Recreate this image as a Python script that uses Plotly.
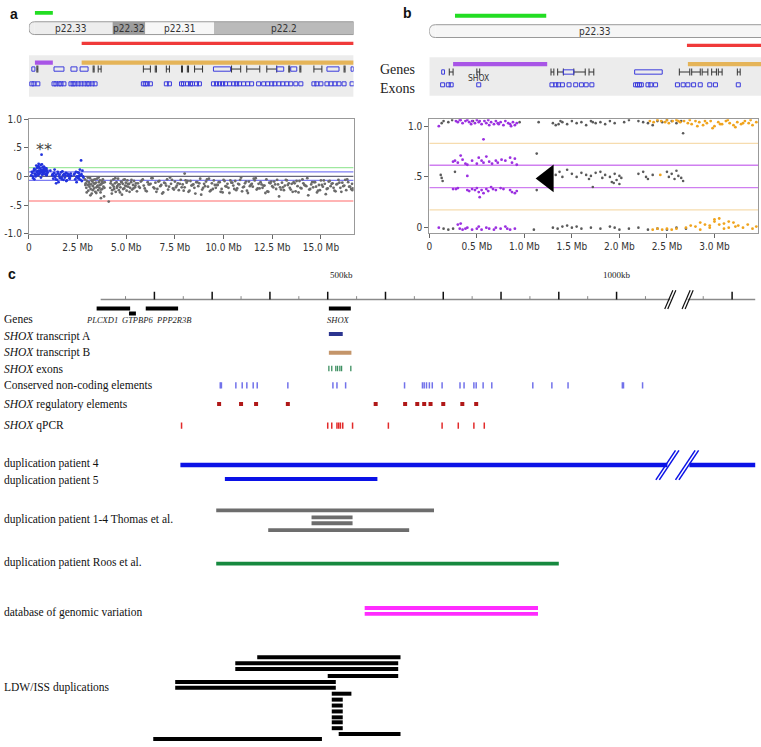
import plotly.graph_objects as go

# ======================= DATA =======================
# ---- panel a : array-CGH, position (Mb) and log2 ratio
a_blue_x = [0.12,0.18,0.22,0.25,0.3,0.33,0.36,0.4,0.42,0.45,0.48,0.5,0.52,0.55,0.58,0.6,0.62,0.65,0.68,0.7,
            0.72,0.75,0.78,0.8,0.83,0.85,0.88,0.9,0.93,0.96,0.35,0.5,0.62,0.77,0.9,0.28,0.7,0.65,
            1.2,1.25,1.3,1.35,1.4,1.45,1.5,1.55,1.6,1.65,1.7,1.75,1.8,1.85,1.9,1.95,2.0,2.05,2.1,2.15,
            1.32,1.52,1.72,1.92,2.12,1.4,1.1,
            2.32,2.38,2.42,2.48,2.52,2.56,2.6,2.65,2.7,2.75,2.8,2.45,2.62,2.72,2.55,2.68,
            0.15,0.2,0.27,0.32,0.38,0.43,0.47,0.53,0.57,0.63,0.67,0.73,0.79,0.82,0.87,0.92,0.95,
            1.22,1.28,1.38,1.48,1.58,1.68,1.78,1.88,1.98,2.08,2.18,
            2.35,2.44,2.5,2.58,2.66,2.78]
a_blue_y = [0.02,0.06,-0.03,0.1,0.05,0.12,0.03,0.08,0.15,0.06,0.18,0.1,0.04,0.14,0.09,0.2,0.07,0.12,0.03,0.16,
            0.1,0.06,0.13,0.08,0.11,0.04,0.09,0.14,0.05,0.07,0.0,0.22,-0.02,0.17,0.02,-0.05,0.08,0.38,
            0.02,-0.04,0.06,-0.01,0.03,-0.06,0.05,0.0,-0.03,0.07,-0.05,0.02,0.04,-0.02,0.06,-0.07,0.01,0.03,-0.04,0.05,
            0.12,-0.1,0.09,-0.08,0.0,-0.12,0.1,
            0.03,-0.05,0.08,0.0,-0.03,0.06,0.02,-0.06,0.04,0.1,-0.02,-0.1,0.12,-0.08,-0.01,0.28,
            0.08,0.0,0.13,0.03,0.19,0.09,0.02,0.16,0.06,0.11,0.21,0.04,0.1,0.15,0.12,0.03,0.1,
            0.04,0.01,-0.05,0.08,0.03,-0.02,-0.06,0.02,0.05,-0.03,0.01,
            0.05,-0.01,0.07,-0.04,0.02,0.0]
a_gray_x = [2.88,2.92,2.95,2.98,3.02,3.05,3.08,3.11,3.14,3.17,3.2,3.23,3.26,3.29,3.32,3.35,3.38,3.41,3.44,3.47,
            3.5,3.53,3.56,3.59,3.62,3.65,3.68,3.71,3.74,3.77,3.8,3.83,3.86,3.89,
            2.9,2.97,3.03,3.1,3.16,3.22,3.28,3.34,3.4,3.46,3.52,3.58,3.64,3.7,3.76,3.82,3.88,
            4.1,8.0,3.7,
            4.18,4.22,4.26,4.3,4.34,4.38,4.42,4.46,4.5,4.54,4.58,4.62,4.66,4.7,4.74,4.78,4.82,4.86,4.9,4.94,
            4.98,5.02,5.06,5.1,5.15,5.2,5.25,5.3,5.35,5.4,5.45,5.5,5.55,
            4.2,4.28,4.36,4.44,4.52,4.6,4.68,4.76,4.84,4.92,5.0,5.08,5.17,5.27,5.37,5.47,
            5.6,5.7,5.8,5.9,6.0,6.1,6.2,6.3,6.4,6.5,6.6,6.7,6.8,6.9,7.0,7.1,7.2,7.3,7.4,7.5,
            7.6,7.7,7.8,7.9,8.0,8.1,8.2,8.3,8.4,8.5,8.6,8.7,8.8,8.9,9.0,9.1,9.2,9.3,9.4,9.5,
            9.6,9.7,9.8,9.9,10.0,10.1,10.2,10.3,10.4,10.5,10.6,10.7,10.8,10.9,11.0,11.1,11.2,11.3,11.4,11.5,
            11.6,11.7,11.8,11.9,12.0,12.1,12.2,12.3,12.4,12.5,12.6,12.7,12.8,12.9,13.0,13.1,13.2,13.3,13.4,13.5,
            13.6,13.7,13.8,13.9,14.0,14.1,14.2,14.3,14.4,14.5,14.6,14.7,14.8,14.9,15.0,15.1,15.2,15.3,15.4,15.5,
            15.6,15.7,15.8,15.9,16.0,16.1,16.2,16.3,16.4,16.5,16.6,16.65,
            5.65,5.85,6.05,6.25,6.45,6.65,6.85,7.05,7.25,7.45,7.65,7.85,8.05,8.25,8.45,8.65,8.85,9.05,9.25,9.45,
            9.65,9.85,10.05,10.25,10.45,10.65,10.85,11.05,11.25,11.45,11.65,11.85,12.05,12.25,12.45,12.65,12.85,13.05,13.25,13.45,
            13.65,13.85,14.05,14.25,14.45,14.65,14.85,15.05,15.25,15.45,15.65,15.85,16.05,16.25,16.45,16.62,
            5.75,5.95,6.15,6.35,6.55,6.75,6.95,7.15,7.35,7.55,7.75,7.95,8.15,8.35,8.55,8.75,8.95,9.15,9.35,9.55,
            9.75,9.95,10.15,10.35,10.55,10.75,10.95,11.15,11.35,11.55,11.75,11.95,12.15,12.35,12.55,12.75,12.95,13.15,13.35,13.55,
            13.75,13.95,14.15,14.35,14.55,14.75,14.95,15.15,15.35,15.55,15.75,15.95,16.15,16.35,16.55]
a_gray_y = [-0.05,-0.12,-0.2,-0.08,-0.15,-0.25,-0.1,-0.18,-0.03,-0.22,-0.14,-0.3,-0.09,-0.17,-0.06,-0.21,-0.13,-0.27,-0.11,-0.19,
            -0.04,-0.16,-0.24,-0.1,-0.2,-0.07,-0.28,-0.14,-0.12,-0.22,-0.05,-0.18,-0.35,-0.1,
            -0.15,-0.28,-0.02,-0.14,-0.33,-0.07,-0.24,-0.12,-0.05,-0.29,-0.18,-0.02,-0.15,-0.23,-0.08,-0.11,-0.2,
            -0.44,0.05,-0.38,
            -0.2,-0.08,-0.3,-0.15,-0.05,-0.22,-0.12,-0.27,-0.1,-0.17,-0.04,-0.24,-0.14,-0.19,-0.09,-0.32,-0.13,-0.06,-0.21,-0.16,
            -0.11,-0.25,-0.07,-0.18,-0.13,-0.2,-0.1,-0.23,-0.15,-0.08,-0.19,-0.12,-0.26,
            -0.12,-0.24,-0.18,-0.03,-0.2,-0.14,-0.28,-0.1,-0.22,-0.05,-0.17,-0.13,-0.27,-0.06,-0.21,-0.16,
            -0.12,-0.2,-0.07,-0.16,-0.25,-0.1,-0.14,-0.03,-0.19,-0.11,-0.22,-0.08,-0.15,-0.28,-0.12,-0.05,-0.18,-0.13,-0.21,-0.09,
            -0.16,-0.24,-0.06,-0.14,-0.19,-0.11,-0.27,-0.08,-0.15,-0.2,-0.1,-0.17,-0.04,-0.23,-0.13,-0.09,-0.18,-0.26,-0.12,-0.07,
            -0.2,-0.15,-0.1,-0.22,-0.06,-0.17,-0.13,-0.29,-0.11,-0.16,-0.08,-0.21,-0.14,-0.02,-0.19,-0.12,-0.25,-0.09,-0.15,-0.18,
            -0.07,-0.23,-0.13,-0.1,-0.2,-0.16,-0.05,-0.27,-0.12,-0.17,-0.09,-0.22,-0.14,-0.19,-0.11,-0.24,-0.06,-0.15,-0.2,-0.13,
            -0.1,-0.26,-0.17,-0.08,-0.21,-0.12,-0.16,-0.03,-0.23,-0.14,-0.19,-0.1,-0.28,-0.15,-0.07,-0.18,-0.13,-0.22,-0.09,-0.17,
            -0.12,-0.25,-0.14,-0.06,-0.2,-0.11,-0.16,-0.24,-0.1,-0.18,-0.13,-0.21,
            -0.18,-0.05,-0.26,-0.13,-0.21,-0.09,-0.3,-0.16,-0.02,-0.23,-0.12,-0.19,-0.07,-0.25,-0.14,-0.1,-0.32,-0.17,-0.04,-0.22,
            -0.15,-0.27,-0.08,-0.2,-0.11,-0.24,-0.06,-0.18,-0.29,-0.13,-0.03,-0.21,-0.16,-0.26,-0.09,-0.14,-0.35,-0.19,-0.07,-0.23,
            -0.12,-0.28,-0.05,-0.17,-0.22,-0.1,-0.25,-0.15,-0.31,-0.08,-0.2,-0.13,-0.27,-0.06,-0.18,-0.24,
            -0.09,-0.21,-0.14,-0.03,-0.27,-0.17,-0.11,-0.23,-0.06,-0.19,-0.13,-0.25,-0.08,-0.16,-0.3,-0.12,-0.2,-0.05,-0.24,-0.15,
            -0.1,-0.28,-0.18,-0.07,-0.22,-0.13,-0.26,-0.09,-0.17,-0.04,-0.21,-0.14,-0.29,-0.11,-0.19,-0.06,-0.23,-0.16,-0.12,-0.27,
            -0.08,-0.2,-0.15,-0.33,-0.1,-0.18,-0.24,-0.07,-0.21,-0.13,-0.26,-0.11,-0.17,-0.05,-0.22]
a_line_val = [0.155, 0.08, 0.0, -0.07, -0.43]
a_line_col = ["#9fe89f", "#7c7cf2", "#66667a", "#7c7cf2", "#ff6b6b"]
a_xtick_val = [0, 2.5, 5.0, 7.5, 10.0, 12.5, 15.0]
a_xtick_txt = ["0", "2.5 Mb", "5.0 Mb", "7.5 Mb", "10.0 Mb", "12.5 Mb", "15.0 Mb"]
a_ytick_val = [-1.0, -0.5, 0, 0.5, 1.0]
a_ytick_txt = ["-1.0", "-.5", "0", ".5", "1.0"]
# panel a ideogram / tracks (Mb)
a_band_name = ["p22.33", "p22.32", "p22.31", "p22.2"]
a_band_start = [0.0, 4.30, 5.98, 9.51]
a_band_end = [4.30, 5.98, 9.51, 16.68]
a_band_fill = ["#ededed", "#9d9d9d", "#f7f7f7", "#bababa"]
a_green = [0.31, 1.23]
a_red = [2.71, 16.68]
a_purple = [0.31, 1.23]
a_orange = [2.71, 16.68]
a_gene_box = [[0.15,0.31],[1.29,1.8],[2.16,2.47],[2.63,3.04],[9.48,10.36],[12.73,13.09],[13.45,13.76],[15.31,15.93],[16.55,16.68]]
a_gene_bar = [[0.41,0.46],[3.3,3.35],[3.56,3.71],[5.88,6.24],[6.49,6.55],[7.06,7.22],[7.84,7.89],[8.14,8.2],[8.51,8.92],
              [10.41,10.88],[11.19,11.86],[12.22,12.73],[13.35,13.4],[13.92,13.97],[14.64,15.05],[16.19,16.24]]
a_exon = [0.15,0.26,0.46,1.29,1.39,1.55,1.65,1.8,2.16,2.27,2.37,2.53,2.68,2.84,2.99,3.09,3.25,3.4,5.88,5.98,6.08,6.24,
          7.06,7.22,7.84,7.94,8.14,8.3,8.4,8.61,8.76,9.48,9.64,9.79,9.95,10.1,10.31,10.52,10.67,10.82,11.03,11.24,11.44,
          11.8,12.06,12.27,12.47,12.63,12.84,13.04,13.25,13.45,13.71,13.97,14.64,14.79,15.0,15.31,15.52,15.72,15.93,16.19,16.6]

# ---- panel b : SNP B-allele frequency, position (Mb)
b_purple_x = [0.28,0.3,0.32,0.35,0.38,0.4,0.42,0.45,0.48,0.5,0.52,0.55,0.58,0.6,0.62,0.65,0.68,0.7,0.72,0.75,
              0.78,0.8,0.83,0.85,0.88,0.9,0.92,0.33,0.44,0.53,0.63,0.73,0.86,0.1,
              0.57,
              0.25,0.27,0.3,0.33,0.35,0.38,0.4,0.45,0.5,0.52,0.55,0.57,0.6,0.63,0.66,0.7,0.72,0.76,0.8,0.85,0.87,0.9,0.92,
              0.25,0.28,0.3,0.4,0.42,0.45,0.48,0.5,0.52,0.53,0.55,0.57,0.6,0.62,0.65,0.67,0.7,0.75,0.78,0.85,0.87,0.9,0.92,
              0.4,
              0.1,0.3,0.32,0.35,0.38,0.4,0.45,0.5,0.52,0.55,0.6,0.63,0.68,0.7,0.75,0.8,0.82,0.85,0.9,0.33]
b_purple_y = [1.05,1.04,1.06,1.03,1.05,1.06,1.04,1.05,1.03,1.06,1.04,1.02,1.05,1.03,1.06,1.04,1.02,1.05,1.03,1.04,
              1.01,1.05,1.03,1.02,1.04,1.01,1.03,1.06,1.02,1.05,1.01,1.02,1.0,1.0,
              0.87,
              0.65,0.66,0.64,0.71,0.67,0.63,0.62,0.66,0.63,0.69,0.66,0.64,0.7,0.65,0.63,0.66,0.64,0.67,0.66,0.69,0.64,0.68,0.62,
              0.38,0.38,0.39,0.37,0.36,0.38,0.37,0.39,0.35,0.3,0.37,0.34,0.38,0.36,0.4,0.38,0.37,0.39,0.38,0.37,0.35,0.34,0.36,
              0.51,
              0.0,0.03,-0.01,-0.02,-0.01,0.0,-0.02,-0.01,0.01,-0.02,0.0,-0.01,-0.02,0.0,-0.01,0.01,-0.01,-0.02,-0.01,0.04]
b_gray_x = [0.13,0.15,0.2,0.24,0.46,0.95,1.15,1.3,1.33,1.38,1.4,1.45,1.5,1.55,1.6,1.65,1.7,1.75,1.8,1.85,
            1.9,1.95,2.05,2.1,2.2,2.25,2.3,2.35,2.4,2.45,2.5,2.55,2.6,2.65,2.67,1.36,1.72,
            1.33,1.37,1.4,1.45,1.5,1.55,1.6,1.65,1.68,1.7,1.72,1.75,1.8,1.82,1.85,1.9,1.92,1.95,1.97,2.0,
            2.02,2.2,2.25,2.28,2.3,2.35,2.5,2.52,2.55,2.58,2.6,2.62,2.65,2.67,2.0,1.94,0.12,0.13,0.14,0.27,1.13,1.13,
            0.15,0.2,0.25,1.1,1.3,1.35,1.4,1.45,1.5,1.55,1.6,1.7,1.8,1.9,1.95,2.0,2.1,2.2,2.3,2.4,2.5,2.6,2.7]
b_gray_y = [1.03,1.05,1.04,1.06,1.05,1.04,1.04,1.03,1.01,1.05,1.04,1.02,1.05,1.03,1.04,1.01,1.05,1.03,1.04,1.02,
            1.05,1.03,1.04,1.06,1.05,1.04,1.03,1.01,1.05,1.04,1.06,1.05,1.03,1.05,0.93,1.02,1.04,
            0.52,0.55,0.5,0.57,0.53,0.5,0.54,0.52,0.48,0.51,0.4,0.54,0.55,0.49,0.52,0.5,0.45,0.53,0.47,0.51,
            0.49,0.53,0.55,0.5,0.48,0.52,0.55,0.5,0.53,0.48,0.56,0.51,0.49,0.46,0.43,0.44,0.52,0.49,0.46,0.55,0.73,0.37,
            -0.01,-0.02,-0.01,-0.02,0.0,-0.01,0.01,0.02,0.0,0.01,-0.01,0.0,-0.01,0.01,0.0,-0.02,-0.01,0.0,-0.02,-0.01,-0.02,0.0,-0.01]
b_orange_x = [2.32,2.36,2.4,2.44,2.48,2.52,2.56,2.6,2.64,2.68,2.72,2.76,2.8,2.84,2.88,2.92,2.96,3.0,3.04,3.08,
              3.12,3.16,3.2,3.24,3.28,3.32,3.36,3.4,3.44,2.74,2.82,2.9,2.98,3.06,3.14,3.22,3.3,3.38,2.5,2.62,
              2.35,2.4,2.45,2.5,2.55,2.6,2.7,2.75,2.8,2.85,2.9,2.95,3.0,3.05,3.1,3.15,3.2,3.25,3.3,3.35,
              3.4,3.44,2.95,3.05,3.15,3.22,2.85,3.0,3.1,
              2.43]
b_orange_y = [1.05,1.04,1.06,1.05,1.04,1.03,1.05,1.06,1.04,1.05,1.03,1.02,1.05,1.04,1.01,1.03,1.05,1.0,1.04,1.02,
              1.05,1.03,1.01,1.04,1.02,1.05,1.03,1.01,1.04,1.06,1.0,1.05,0.98,1.02,1.06,0.99,1.03,1.06,1.06,1.05,
              -0.02,-0.01,-0.02,-0.01,-0.02,-0.01,0.0,0.02,0.01,0.05,0.03,0.02,0.06,0.09,0.04,0.0,0.05,0.02,0.0,0.03,
              -0.01,0.01,0.0,0.03,0.06,0.01,-0.02,0.08,-0.01,
              0.52]
b_line_val = [0.83, 0.615, 0.395, 0.175]
b_line_col = ["#f6dcae", "#cf7ff0", "#cf7ff0", "#f6dcae"]
b_arrow = [1.245, 0.485]
b_xtick_val = [0, 0.5, 1.0, 1.5, 2.0, 2.5, 3.0]
b_xtick_txt = ["0", "0.5 Mb", "1.0 Mb", "1.5 Mb", "2.0 Mb", "2.5 Mb", "3.0 Mb"]
b_ytick_val = [0, 0.5, 1.0]
b_ytick_txt = ["0", ".5", "1.0"]
b_band_name = ["p22.33"]
b_band_start = [0.0]
b_band_end = [3.6]
b_band_label_x = [1.74]
b_green = [0.27, 1.23]
b_red = [2.71, 3.6]
b_purple = [0.25, 1.24]
b_orange = [2.72, 3.6]
b_gene_box = [[0.13,0.16],[1.41,1.52],[2.16,2.45]]
b_gene_bar = [[0.21,0.25],[0.5,0.53],[1.28,1.31],[1.35,1.41],[1.52,1.64],[1.68,1.73],[2.63,2.74],[2.76,2.85],
              [2.87,2.93],[2.97,3.02],[3.04,3.08],[3.24,3.27]]
b_exon = [0.14,0.2,0.23,0.52,1.29,1.33,1.36,1.4,1.47,1.54,1.6,1.65,1.71,2.17,2.19,2.21,2.23,2.3,2.33,2.38,
          2.61,2.67,2.72,2.78,2.85,2.95,3.01,3.25]
b_shox_label = [0.52]

# ---- panel c : map (kb; region after the break continues on the same scale)
c_ruler = [107, 1240]
c_major = [200, 300, 400, 500, 600, 700, 800, 900, 1000, 1200]
c_minor = [150, 250, 350, 450, 550, 650, 750, 850, 950, 1050, 1150]
c_ruler_txt = ["500kb", "1000kb"]
c_ruler_txt_kb = [500, 1000]
c_break = [1093, 1123]
c_gene_name = ["PLCXD1", "GTPBP6", "PPP2R3B", "SHOX"]
c_gene_start = [100, 156, 185, 502]
c_gene_end = [158, 168, 241, 540]
c_gene_label_kb = [110, 171, 233, 519]
c_tA = [502, 526]
c_tB = [502, 541]
c_exons = [502, 507, 514, 517, 521, 524, 540]
c_cne = [314,316,341,352,360,371,378,431,509,516,531,633,664,667,671,676,681,698,729,736,753,757,769,784,855,888,916,1010,1012,1045]
c_reg = [312, 350, 376, 431, 583, 634, 655, 667, 678, 700, 733, 757]
c_qpcr = [247, 500, 507, 516, 519, 522, 526, 543, 605, 698, 726, 753, 771]
c_p4 = [245, 1240]
c_p5 = [322, 586]
c_thomas_start = [307, 472, 472, 397]
c_thomas_end = [684, 543, 543, 641]
c_roos = [307, 900]
c_dgv_start = [564, 564]
c_dgv_end = [864, 864]
c_ldw_start = [378, 340, 340, 500, 236, 236, 507, 507, 507, 507, 507, 507, 507, 519, 198]
c_ldw_end = [626, 622, 622, 622, 514, 514, 541, 526, 526, 526, 526, 526, 526, 626, 490]
c_row_label = ["Genes", "<i>SHOX</i> transcript A", "<i>SHOX</i> transcript B", "<i>SHOX</i> exons",
               "Conserved non-coding elements", "<i>SHOX</i> regulatory elements", "<i>SHOX</i> qPCR",
               "duplication patient 4", "duplication patient 5", "duplication patient 1-4 Thomas et al.",
               "duplication patient Roos et al.", "database of genomic variation", "LDW/ISS duplications"]

# ======================= LAYOUT HELPERS =======================
W, H = 761, 747
def py(p):
    return 1 - p / H
def pxf(p):
    return p / W

# lane rows (pixel rows used as the y unit of the track axes)
row_gene_c, row_gene_c2, row_gene_lbl = 308, 313, 320
row_tA, row_tB, row_ex, row_cne, row_reg, row_q = 334, 353, 369, 386, 405, 427
row_p4, row_p5, row_roos = 467, 481, 567
rows_thomas = [513, 520, 526, 533]
rows_dgv = [612, 618]
rows_ldw = [662, 668, 674, 681, 687, 693, 699, 705, 711, 717, 723, 728, 734, 740, 745]
label_rows = [319, 336, 353, 369, 386, 405, 427, 465, 483, 522, 566, 617, 693]

def segs(pairs, ys):
    xs, yy = [], []
    for (a, b), y in zip(pairs, ys):
        xs += [a, b, None]
        yy += [y, y, None]
    return xs, yy

fig = go.Figure()
TICKFONT = dict(family="Liberation Sans Narrow, DejaVu Sans Condensed, Arial Narrow, Liberation Sans", size=10, color="#333")
SERIF = "Liberation Serif, Times New Roman, serif"
NARROW = "Liberation Sans Narrow, DejaVu Sans Condensed, Liberation Sans"

# ---------------- panel a scatter ----------------
fig.add_trace(go.Scatter(x=a_gray_x, y=a_gray_y, mode="markers", xaxis="x", yaxis="y",
                         marker=dict(size=2.8, color="#6a6a6a"), hoverinfo="skip"))
fig.add_trace(go.Scatter(x=a_blue_x, y=a_blue_y, mode="markers", xaxis="x", yaxis="y",
                         marker=dict(size=2.8, color="#2233dd"), hoverinfo="skip"))
for v, c in zip(a_line_val, a_line_col):
    fig.add_shape(type="line", xref="x", yref="y", x0=0, x1=a_band_end[-1], y0=v, y1=v,
                  line=dict(color=c, width=1.2), layer="below")
fig.add_annotation(x=0.77, y=0.47, xref="x", yref="y", text="**", showarrow=False,
                   font=dict(size=16, color="#444", family="DejaVu Sans"))

# ---------------- top tracks (ideogram, CNV bars, genes, exons) ----------------
def tracks(xref, yref, band_start, band_end, band_fill, band_name, label_x, r,
           green, red, purple, orange, gene_box, gene_bar, exon,
           y_green, y_ideo, y_red, y_bg, y_bar, y_gene, y_exon):
    fig.add_shape(type="rect", xref=xref, yref=yref, x0=green[0], x1=green[1], y0=y_green - 2, y1=y_green + 2,
                  fillcolor="#22dd22", line=dict(width=0))
    for s, e, f in zip(band_start, band_end, band_fill):
        fig.add_shape(type="rect", xref=xref, yref=yref, x0=max(s, band_start[0] + r), x1=e,
                      y0=y_ideo[0], y1=y_ideo[1], fillcolor=f, line=dict(width=0))
    x0, x1 = band_start[0], band_end[-1]
    y0, y1 = y_ideo
    ym = (y0 + y1) / 2
    fig.add_shape(type="path", xref=xref, yref=yref,
                  path=f"M {x0 + r},{y0} Q {x0},{y0} {x0},{ym} Q {x0},{y1} {x0 + r},{y1} Z",
                  fillcolor=band_fill[0], line=dict(width=0))
    fig.add_shape(type="path", xref=xref, yref=yref,
                  path=f"M {x0 + r},{y0} L {x1},{y0} L {x1},{y1} L {x0 + r},{y1} Q {x0},{y1} {x0},{ym} Q {x0},{y0} {x0 + r},{y0} Z",
                  line=dict(color="#9a9a9a", width=1))
    for n, lx in zip(band_name, label_x):
        fig.add_annotation(x=lx, y=ym, xref=xref, yref=yref, text=n, showarrow=False,
                           xanchor="center", yanchor="middle",
                           font=dict(size=10, color="#333", family=NARROW))
    fig.add_shape(type="rect", xref=xref, yref=yref, x0=red[0], x1=red[1], y0=y_red - 1.6, y1=y_red + 1.6,
                  fillcolor="#f03a3a", line=dict(width=0))
    fig.add_shape(type="rect", xref=xref, yref=yref, x0=band_start[0], x1=band_end[-1], y0=y_bg[0], y1=y_bg[1],
                  fillcolor="#ececec", line=dict(width=0), layer="below")
    fig.add_shape(type="rect", xref=xref, yref=yref, x0=purple[0], x1=purple[1], y0=y_bar - 2.2, y1=y_bar + 2.2,
                  fillcolor="#a855e6", line=dict(width=0))
    fig.add_shape(type="rect", xref=xref, yref=yref, x0=orange[0], x1=orange[1], y0=y_bar - 2.2, y1=y_bar + 2.2,
                  fillcolor="#e5b458", line=dict(width=0))
    for a, b in gene_box:
        fig.add_shape(type="rect", xref=xref, yref=yref, x0=a, x1=b, y0=y_gene - 2.2, y1=y_gene + 2.2,
                      line=dict(color="#3b3bdc", width=1))
    gx, gy = segs(gene_bar, [y_gene] * len(gene_bar))
    fig.add_trace(go.Scatter(x=gx, y=gy, mode="lines+markers", xaxis=xref, yaxis=yref,
                             line=dict(color="#333", width=1),
                             marker=dict(symbol="line-ns-open", size=5, color="#333", line=dict(width=1, color="#333")),
                             hoverinfo="skip"))
    fig.add_trace(go.Scatter(x=exon, y=[y_exon] * len(exon), mode="markers", xaxis=xref, yaxis=yref,
                             marker=dict(symbol="square-open", size=4, color="#3b3bdc", line=dict(width=1)),
                             hoverinfo="skip"))

a_label_x = [(s + e) / 2 for s, e in zip(a_band_start, a_band_end)]
tracks("x", "y3", a_band_start, a_band_end, a_band_fill, a_band_name, a_label_x, 0.3,
       a_green, a_red, a_purple, a_orange, a_gene_box, a_gene_bar, a_exon,
       y_green=8, y_ideo=(17, 30), y_red=39, y_bg=(51, 93), y_bar=58.5, y_gene=65, y_exon=80)
tracks("x6", "y4", b_band_start, b_band_end, ["#f6f6f6"], b_band_name, b_band_label_x, 0.065,
       b_green, b_red, b_purple, b_orange, b_gene_box, b_gene_bar, b_exon,
       y_green=11, y_ideo=(20, 33), y_red=41, y_bg=(53, 92), y_bar=60, y_gene=68, y_exon=81)
fig.add_annotation(x=b_shox_label[0], y=74, xref="x6", yref="y4", text="SHOX", showarrow=False,
                   xanchor="center", yanchor="middle",
                   font=dict(size=8.5, color="#333", family=NARROW))

# ---------------- panel b scatter ----------------
for v, c in zip(b_line_val, b_line_col):
    fig.add_shape(type="line", xref="x2", yref="y2", x0=0, x1=3.458, y0=v, y1=v,
                  line=dict(color=c, width=1.3), layer="below")
fig.add_trace(go.Scatter(x=b_gray_x, y=b_gray_y, mode="markers", xaxis="x2", yaxis="y2",
                         marker=dict(size=2.6, color="#5a5a5a"), hoverinfo="skip"))
fig.add_trace(go.Scatter(x=b_purple_x, y=b_purple_y, mode="markers", xaxis="x2", yaxis="y2",
                         marker=dict(size=2.8, color="#9b30e0"), hoverinfo="skip"))
fig.add_trace(go.Scatter(x=b_orange_x, y=b_orange_y, mode="markers", xaxis="x2", yaxis="y2",
                         marker=dict(size=2.8, color="#f0a41e"), hoverinfo="skip"))
fig.add_trace(go.Scatter(x=[b_arrow[0]], y=[b_arrow[1]], mode="markers", xaxis="x2", yaxis="y2",
                         marker=dict(symbol="triangle-left", size=24, color="#000"), hoverinfo="skip"))

# ---------------- panel c ----------------
def add_lines(xs, ys, color, width):
    fig.add_trace(go.Scatter(x=xs, y=ys, mode="lines", xaxis="x5", yaxis="y5",
                             line=dict(color=color, width=width), hoverinfo="skip"))

def add_ticks(xs, y, color, size, width):
    fig.add_trace(go.Scatter(x=xs, y=[y] * len(xs), mode="markers", xaxis="x5", yaxis="y5",
                             marker=dict(symbol="line-ns-open", size=size, color=color,
                                         line=dict(width=width, color=color)),
                             hoverinfo="skip"))

# ruler
add_lines([c_ruler[0], c_break[0], None, c_break[1], c_ruler[1]], [299, 299, None, 299, 299], "#8a8a8a", 1.5)
mx, my = [], []
for k in c_major:
    mx += [k, k, None]; my += [291, 299, None]
add_lines(mx, my, "#111", 1.5)
nx, ny = [], []
for k in c_minor:
    nx += [k, k, None]; ny += [295.5, 299, None]
add_lines(nx, ny, "#888", 1)
for t, k, anc in zip(c_ruler_txt, c_ruler_txt_kb, ["left", "center"]):
    fig.add_annotation(x=k, y=274, xref="x5", yref="y5", text=t, showarrow=False, xanchor=anc, yanchor="middle",
                       font=dict(size=9, family=SERIF, color="#222"))

def slashes(centres, yc, dx, dy, off, color, width):
    sx, sy = [], []
    for c in centres:
        for o in (-off, off):
            sx += [c - dx + o, c + dx + o, None]
            sy += [yc + dy, yc - dy, None]
    add_lines(sx, sy, color, width)

slashes(c_break, 299, 7, 9.5, 2.6, "#111", 1.2)

# genes and SHOX features
gx, gy = segs(list(zip(c_gene_start, c_gene_end)), [row_gene_c, row_gene_c2, row_gene_c, row_gene_c])
add_lines(gx, gy, "#000", 4)
for n, k in zip(c_gene_name, c_gene_label_kb):
    fig.add_annotation(x=k, y=row_gene_lbl, xref="x5", yref="y5", text=f"<i>{n}</i>", showarrow=False,
                       xanchor="center", yanchor="middle",
                       font=dict(size=8.5, family=SERIF, color="#222"))
add_lines(c_tA, [row_tA, row_tA], "#2c3590", 4)
add_lines(c_tB, [row_tB, row_tB], "#c4956a", 4)
add_ticks(c_exons, row_ex, "#3c8f60", 4, 1.3)
add_ticks(c_cne, row_cne, "#7272ea", 4.5, 1.5)
fig.add_trace(go.Scatter(x=c_reg, y=[row_reg] * len(c_reg), mode="markers", xaxis="x5", yaxis="y5",
                         marker=dict(symbol="square", size=4, color="#b01818"), hoverinfo="skip"))
add_ticks(c_qpcr, row_q, "#e22a2a", 4.5, 1.5)

# duplications
add_lines([c_p4[0], c_break[0] - 5, None, c_break[1] + 3, c_p4[1]], [row_p4, row_p4, None, row_p4, row_p4], "#0b12e6", 4.5)
slashes([c_break[0] - 5, c_break[1] - 1], row_p4, 17, 15, 3, "#0b12e6", 1.5)
add_lines(c_p5, [row_p5, row_p5], "#0b12e6", 4)
tx, ty = segs(list(zip(c_thomas_start, c_thomas_end)), rows_thomas)
add_lines(tx, ty, "#6d6d6d", 3.8)
add_lines(c_roos, [row_roos, row_roos], "#16893f", 3.8)
dx_, dy_ = segs(list(zip(c_dgv_start, c_dgv_end)), rows_dgv)
add_lines(dx_, dy_, "#ff2cff", 3.8)
lx, ly = segs(list(zip(c_ldw_start, c_ldw_end)), rows_ldw)
add_lines(lx, ly, "#000", 4)

for t, r in zip(c_row_label, label_rows):
    fig.add_annotation(x=pxf(-1), y=r, xref="paper", yref="y5", text=t, showarrow=False,
                       xanchor="left", yanchor="middle",
                       font=dict(size=11.5, family=SERIF, color="#111"))

# panel letters and b-track labels
for t, x, y in [("a", 11, 9), ("b", 406, 8), ("c", 9, 273)]:
    fig.add_annotation(x=pxf(x), y=py(y), xref="paper", yref="paper", text=f"<b>{t}</b>", showarrow=False,
                       xanchor="center", yanchor="middle",
                       font=dict(size=14, family="Liberation Sans, Arial", color="#111"))
for t, y in [("Genes", 65), ("Exons", 85)]:
    fig.add_annotation(x=pxf(416), y=py(y), xref="paper", yref="paper", text=t, showarrow=False,
                       xanchor="right", yanchor="middle",
                       font=dict(size=14, family=SERIF, color="#222"))

# ---------------- axes ----------------
axis_common = dict(showgrid=False, zeroline=False, showline=True, mirror=True, linecolor="#999",
                   linewidth=1, ticks="outside", ticklen=4, tickcolor="#666", tickfont=TICKFONT)
hidden = dict(visible=False, showgrid=False, zeroline=False, fixedrange=True)
fig.update_layout(
    width=W, height=H, margin=dict(l=0, r=0, t=0, b=0),
    paper_bgcolor="white", plot_bgcolor="white", showlegend=False,
    xaxis=dict(domain=[pxf(26), pxf(352)], range=[0, 16.68], anchor="y",
               tickvals=a_xtick_val, ticktext=a_xtick_txt, **axis_common),
    yaxis=dict(domain=[py(232), py(116)], range=[-1.0, 1.0], anchor="x",
               tickvals=a_ytick_val, ticktext=a_ytick_txt, **axis_common),
    xaxis2=dict(domain=[pxf(428), pxf(758)], range=[0, 3.458], anchor="y2",
                tickvals=b_xtick_val, ticktext=b_xtick_txt, **axis_common),
    yaxis2=dict(domain=[py(231), py(116)], range=[-0.049, 1.068], anchor="x2",
                tickvals=b_ytick_val, ticktext=b_ytick_txt, **axis_common),
    yaxis3=dict(domain=[py(100), 1], range=[100, 0], anchor="x", **hidden),
    yaxis4=dict(domain=[py(100), 1], range=[100, 0], anchor="x6", **hidden),
    xaxis6=dict(domain=[pxf(428), 1], range=[0, 3.489], anchor="y4", **hidden),
    xaxis5=dict(domain=[0, 1], range=[-62.07, 1250.0], anchor="y5", **hidden),
    yaxis5=dict(domain=[0, py(262)], range=[747, 262], anchor="x5", **hidden),
)

fig.write_html("out.html", config={"displayModeBar": False},
               post_script="document.body.style.margin='0';document.body.style.overflow='hidden';")
